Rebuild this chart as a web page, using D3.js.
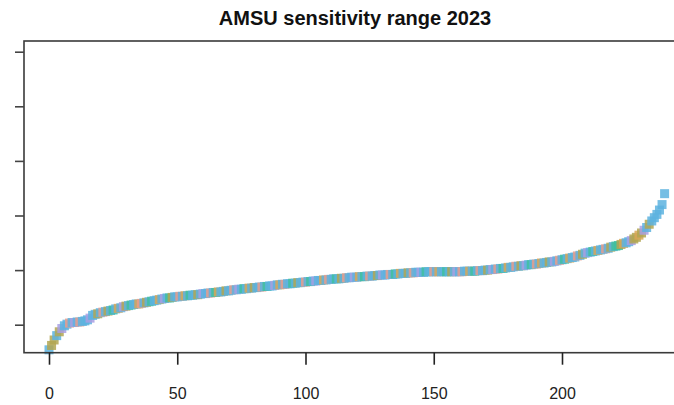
<!DOCTYPE html>
<html>
<head>
<meta charset="utf-8">
<script src="https://cdn.jsdelivr.net/npm/d3@7"></script>
<style>
  html, body { margin: 0; padding: 0; background: #fff; }
  svg { display: block; }
</style>
</head>
<body>
<svg id="chart" width="674" height="405"></svg>
<script>
// Sorted sensitivity range values, one per AMSU channel/instrument entry
const values = [
  0.54, 0.62, 0.72, 0.80, 0.87, 0.93, 0.98, 1.01, 1.03, 1.04,
  1.04, 1.05, 1.05, 1.06, 1.07, 1.09, 1.12, 1.17, 1.19, 1.20,
  1.22, 1.23, 1.24, 1.25, 1.26, 1.27, 1.29, 1.30, 1.31, 1.33,
  1.34, 1.35, 1.36, 1.37, 1.38, 1.38, 1.39, 1.40, 1.41, 1.42,
  1.43, 1.44, 1.45, 1.46, 1.47, 1.48, 1.49, 1.49, 1.50, 1.51,
  1.51, 1.52, 1.52, 1.53, 1.53, 1.54, 1.54, 1.55, 1.55, 1.56,
  1.57, 1.57, 1.58, 1.58, 1.59, 1.59, 1.60, 1.60, 1.61, 1.62,
  1.62, 1.63, 1.64, 1.64, 1.65, 1.65, 1.66, 1.66, 1.67, 1.67,
  1.68, 1.68, 1.69, 1.69, 1.70, 1.70, 1.71, 1.71, 1.72, 1.73,
  1.73, 1.74, 1.74, 1.75, 1.75, 1.76, 1.76, 1.77, 1.77, 1.78,
  1.78, 1.79, 1.79, 1.80, 1.80, 1.81, 1.81, 1.82, 1.82, 1.83,
  1.83, 1.84, 1.84, 1.84, 1.85, 1.85, 1.86, 1.86, 1.87, 1.87,
  1.87, 1.88, 1.88, 1.88, 1.89, 1.89, 1.89, 1.90, 1.90, 1.91,
  1.91, 1.91, 1.92, 1.92, 1.92, 1.93, 1.93, 1.94, 1.94, 1.94,
  1.95, 1.95, 1.95, 1.96, 1.96, 1.96, 1.96, 1.97, 1.97, 1.97,
  1.97, 1.97, 1.97, 1.97, 1.97, 1.97, 1.97, 1.97, 1.97, 1.97,
  1.97, 1.97, 1.98, 1.98, 1.98, 1.98, 1.98, 1.99, 1.99, 1.99,
  2.00, 2.00, 2.01, 2.01, 2.02, 2.02, 2.03, 2.03, 2.04, 2.05,
  2.05, 2.06, 2.07, 2.07, 2.08, 2.08, 2.09, 2.10, 2.10, 2.11,
  2.11, 2.12, 2.13, 2.13, 2.14, 2.15, 2.15, 2.16, 2.17, 2.18,
  2.19, 2.20, 2.21, 2.22, 2.23, 2.24, 2.26, 2.27, 2.29, 2.31,
  2.32, 2.33, 2.34, 2.35, 2.36, 2.37, 2.38, 2.39, 2.40, 2.42,
  2.43, 2.44, 2.45, 2.47, 2.49, 2.50, 2.52, 2.54, 2.57, 2.60,
  2.64, 2.68, 2.73, 2.78, 2.84, 2.90, 2.96, 3.02, 3.10, 3.20, 3.40
];

// Group code of each point (B, O, S, G, L, Y), in the same order as values
const groups = (
  "BOOBOLBBSB" + "LBSBBBLBBO" + "BSBOBGBYBL" + "OBGBBYSBOB" +
  "GBBYBLBGOB" + "BSBYBGBBOB" + "LBBSBGYBBO" + "BBSBLBGBYB" +
  "OBBSBGBBLB" + "YBSBBGBOBB" + "SBGBLBBYBS" + "BBGBOBSBBL" +
  "BYBGBSBBOB" + "LBBSBGBYBB" + "OBSBBLBGBB" + "SBYBBGBOBL" +
  "BSBBYBGBSB" + "BOBLBSBGBY" + "BBSBOBLBGB" + "SBYBBOBLBS" +
  "BGBYBBSBOB" + "LBGBYBBSBO" + "BGGOYBBLOO" + "YOLBOBBBBBB"
).split("");

const groupCodes = ["B", "O", "S", "G", "L", "Y"];
const groupColors = ["#5db3df", "#b2a652", "#e99c8c", "#3fbf9f", "#a99fe2", "#d8a657"];

const xTicks = [0, 50, 100, 150, 200];
const yTicks = [1, 2, 3, 4, 5, 6];
const title = "AMSU sensitivity range 2023";

const svg = d3.select("#chart");

// Plot frame (right edge runs past the canvas)
const frame = { left: 24, right: 700, top: 41, bottom: 352.7 };

const x = d3.scaleLinear().domain([0, 200]).range([49, 562]);
const y = d3.scaleLinear().domain([1, 6]).range([324.7, 51.7]);
const color = d3.scaleOrdinal().domain(groupCodes).range(groupColors);

const points = values.map((v, i) => ({ i, v, g: groups[i] }));

// Points: filled squares
const size = 9;
svg.append("g")
  .selectAll("rect")
  .data(points)
  .join("rect")
  .attr("x", d => x(d.i) - size / 2)
  .attr("y", d => y(d.v) - size / 2)
  .attr("width", size)
  .attr("height", size)
  .attr("fill", d => color(d.g))
  .attr("fill-opacity", 0.85);

// Box around the plot
svg.append("rect")
  .attr("x", frame.left)
  .attr("y", frame.top)
  .attr("width", frame.right - frame.left)
  .attr("height", frame.bottom - frame.top)
  .attr("fill", "none")
  .attr("stroke", "#3a3a3a")
  .attr("stroke-width", 1.6);

// Bottom axis
const xAxis = svg.append("g")
  .attr("transform", `translate(0,${frame.bottom})`)
  .call(d3.axisBottom(x).tickValues(xTicks).tickSize(12).tickPadding(23).tickFormat(d3.format("d")));
xAxis.select(".domain").remove();
xAxis.selectAll(".tick line").attr("stroke", "#222").attr("stroke-width", 1.6);
xAxis.selectAll(".tick text")
  .attr("fill", "#222")
  .style("font-family", "'Liberation Sans', Arial, sans-serif")
  .style("font-size", "16px");

// Left axis (tick marks only; labels fall outside the canvas)
const yAxis = svg.append("g")
  .attr("transform", `translate(${frame.left},0)`)
  .call(d3.axisLeft(y).tickValues(yTicks).tickSize(9).tickFormat(""));
yAxis.select(".domain").remove();
yAxis.selectAll(".tick line").attr("stroke", "#444").attr("stroke-width", 1.6);

// Title
svg.append("text")
  .attr("x", 355)
  .attr("y", 25)
  .attr("text-anchor", "middle")
  .style("font-family", "'Liberation Sans', Arial, sans-serif")
  .style("font-weight", "bold")
  .style("font-size", "20px")
  .attr("fill", "#111")
  .text(title);
</script>
</body>
</html>
